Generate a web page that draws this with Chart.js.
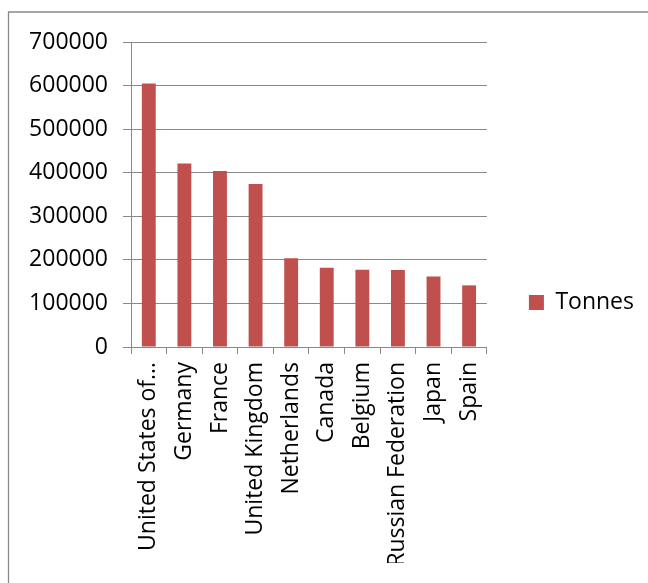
<!DOCTYPE html>
<html>
<head>
<meta charset="utf-8">
<script src="https://cdn.jsdelivr.net/npm/chart.js@4/dist/chart.umd.min.js"></script>
<style>
  html, body { margin: 0; padding: 0; background: #fff; }
  #wrap { position: absolute; left: 0; top: 0; width: 648px; height: 583px; }
</style>
</head>
<body>
<div id="wrap"><canvas id="chart" width="648" height="583"></canvas></div>
<script>
// data
const countries = ['United States of America', 'Germany', 'France', 'United Kingdom', 'Netherlands',
    'Canada', 'Belgium', 'Russian Federation', 'Japan', 'Spain'];
const tonnes = [605000, 421000, 404000, 374000, 203500, 182000, 177500, 176500, 162000, 141500];
const yTicks = [0, 100000, 200000, 300000, 400000, 500000, 600000, 700000];

const barColor = '#C0504D';
const lineColor = '#888888';
const font = { family: 'Open Sans', size: 23 };

// frame around the whole chart (only top and left edges are visible)
const framePlugin = {
    id: 'frame',
    beforeDraw(chart) {
        const ctx = chart.ctx;
        ctx.save();
        ctx.fillStyle = '#fff';
        ctx.fillRect(0, 0, chart.width, chart.height);
        ctx.strokeStyle = lineColor;
        ctx.lineWidth = 1.3;
        ctx.beginPath();
        ctx.moveTo(8.5, chart.height + 2);
        ctx.lineTo(8.5, 12);
        ctx.lineTo(chart.width + 2, 12);
        ctx.stroke();
        ctx.restore();
    }
};

new Chart(document.getElementById('chart'), {
    type: 'bar',
    data: {
        labels: countries,
        datasets: [{
            label: 'Tonnes',
            data: tonnes,
            backgroundColor: barColor,
            barPercentage: 0.39,
            categoryPercentage: 1
        }]
    },
    options: {
        responsive: false,
        animation: false,
        layout: { padding: { top: 42, left: 0, right: 4, bottom: 20 } },
        plugins: {
            tooltip: { enabled: false },
            legend: {
                position: 'right',
                labels: {
                    color: '#000',
                    font: font,
                    boxWidth: 15,
                    boxHeight: 15,
                    padding: 42
                }
            }
        },
        scales: {
            x: {
                afterFit(scale) { scale.height = 216; },
                border: { color: lineColor, width: 1 },
                grid: { drawOnChartArea: false, drawTicks: true, tickLength: 7, color: lineColor, offset: true },
                ticks: {
                    color: '#000',
                    font: font,
                    minRotation: 90,
                    maxRotation: 90,
                    autoSkip: false,
                    padding: 8,
                    callback(value) {
                        const s = this.getLabelForValue(value);
                        return s.length > 18 ? s.slice(0, 16) + '…' : s;
                    }
                }
            },
            y: {
                min: 0,
                max: 700000,
                afterFit(scale) { scale.width = 131; },
                afterBuildTicks(scale) { scale.ticks = yTicks.map(v => ({ value: v })); },
                border: { color: lineColor, width: 1 },
                grid: { color: lineColor, lineWidth: 1, tickLength: 8 },
                ticks: {
                    color: '#000',
                    font: font,
                    padding: 15,
                    callback: v => String(v)
                }
            }
        }
    },
    plugins: [framePlugin]
});
</script>
</body>
</html>
